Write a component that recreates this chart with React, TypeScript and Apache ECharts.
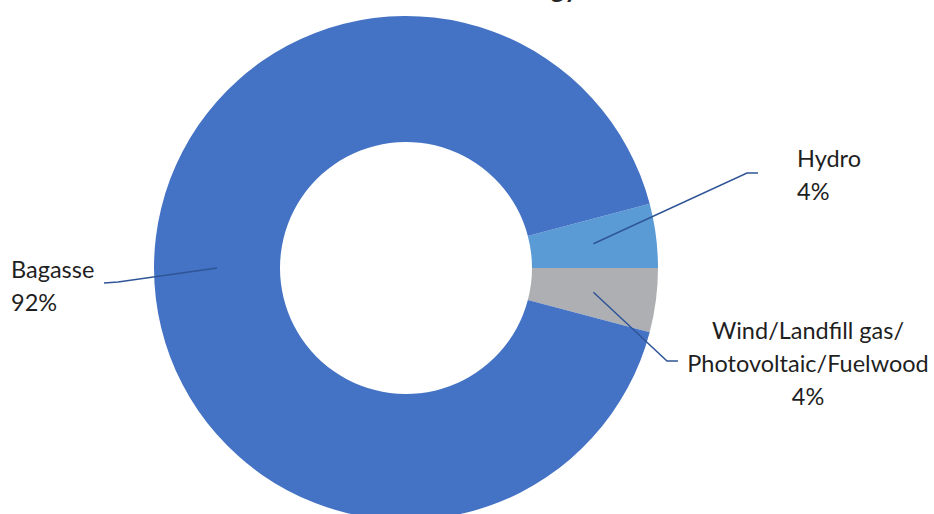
import React, { useEffect, useRef } from "react";
import * as echarts from "echarts";

const categories = ["Hydro", "Wind/Landfill gas/\nPhotovoltaic/Fuelwood", "Bagasse"];
const shares = [4.1, 4.1, 91.8];
const colors = ["#5B9BD5", "#AEAFB3", "#4472C4"];
const titleText = "Renewable Energy";

// label placement (pixels): anchor x, middle y, alignment, elbow & end of leader line
const labelPlacement = [
  { x: 797, y: 174, align: "left", elbow: [747, 173], end: [758, 173] },
  { x: 808, y: 363, align: "center", elbow: [667, 361], end: [678, 361] },
  { x: 11, y: 285, align: "left", elbow: [118, 282], end: [104, 283] },
];

const CX = 406;
const CY = 268;
const R_OUT = 252;
const R_IN = 126;

export default function App() {
  const ref = useRef<HTMLDivElement>(null);
  useEffect(() => {
    if (!ref.current) return;
    const chart = echarts.init(ref.current, undefined, { renderer: "svg" });
    const total = shares.reduce((a, b) => a + b, 0);
    const startAngle = (shares[0] / total) * 360;
    // mid angle (math degrees, ccw positive) of each slice
    const mids: number[] = [];
    let acc = startAngle;
    shares.forEach((v) => {
      const span = (v / total) * 360;
      mids.push(acc - span / 2);
      acc -= span;
    });
    const rMid = (R_OUT + R_IN) / 2;
    const leaderLines = labelPlacement.map((pl, i) => {
      const a = (mids[i] * Math.PI) / 180;
      const start = [CX + rMid * Math.cos(a), CY - rMid * Math.sin(a)];
      return {
        type: "polyline",
        z: 100,
        silent: true,
        shape: { points: [start, pl.elbow, pl.end] },
        style: { stroke: "#2F5597", lineWidth: 1.5, fill: null },
      };
    });
    chart.setOption({
      animation: false,
      graphic: [
        {
          type: "text",
          x: 578,
          y: 1,
          style: {
            text: titleText,
            fontFamily: "Lato",
            fontSize: 26,
            fontWeight: "bold",
            fill: "#262626",
            align: "right",
            verticalAlign: "bottom",
          },
        },
        ...leaderLines,
      ],
      series: [
        {
          type: "pie",
          center: [CX, CY],
          radius: [R_IN, R_OUT],
          startAngle,
          clockwise: true,
          avoidLabelOverlap: false,
          data: categories.map((name, i) => ({
            name,
            value: shares[i],
            itemStyle: { color: colors[i] },
          })),
          itemStyle: { borderColor: "#ffffff", borderWidth: 0 },
          emphasis: { disabled: true },
          label: {
            show: true,
            formatter: (p: any) => `${p.name}\n${Math.round(p.percent)}%`,
            fontFamily: "Lato",
            fontSize: 23.5,
            lineHeight: 33,
            color: "#1f1f1f",
          },
          labelLine: { show: false },
          labelLayout: (params: any) => {
            const pl = labelPlacement[params.dataIndex];
            return {
              x: pl.x,
              y: pl.y,
              align: pl.align,
              verticalAlign: "middle",
            };
          },
        },
      ],
    });
    return () => chart.dispose();
  }, []);
  return (
    <div
      ref={ref}
      style={{ position: "fixed", left: 0, top: 0, width: 934, height: 514, background: "#fff" }}
    />
  );
}
